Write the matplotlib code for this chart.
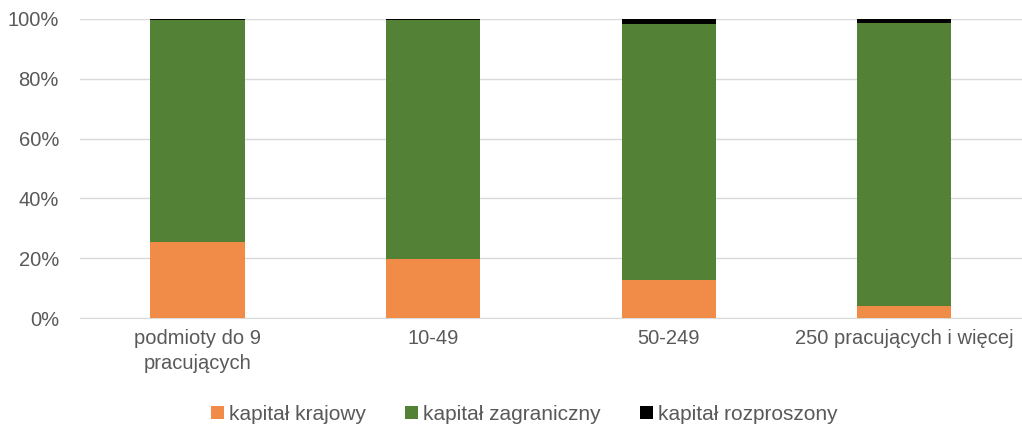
import matplotlib
matplotlib.use("Agg")
import matplotlib.pyplot as plt
import numpy as np

categories = ["podmioty do 9\npracujących", "10-49", "50-249", "250 pracujących i więcej"]
krajowy = [25.4, 19.6, 12.6, 4.0]
rozproszony = [0.4, 0.4, 1.7, 1.2]
zagraniczny = [100 - k - r for k, r in zip(krajowy, rozproszony)]
series_names = ["kapitał krajowy", "kapitał zagraniczny", "kapitał rozproszony"]
colors = ["#F08C48", "#538135", "#000000"]
yticks = [0, 20, 40, 60, 80, 100]

plt.rcParams['font.family'] = ['Liberation Sans', 'DejaVu Sans']
txt = "#595959"

fig = plt.figure(figsize=(10.22, 4.26), dpi=100)
ax = fig.add_axes([0.078, 0.2535, 0.922, 0.7019])

x = np.arange(len(categories))
w = 0.40
b1 = ax.bar(x, krajowy, w, color=colors[0], label=series_names[0], zorder=3)
b2 = ax.bar(x, zagraniczny, w, bottom=krajowy, color=colors[1], label=series_names[1], zorder=3)
bot3 = [k + z for k, z in zip(krajowy, zagraniczny)]
b3 = ax.bar(x, rozproszony, w, bottom=bot3, color=colors[2], label=series_names[2], zorder=3)

ax.set_xlim(-0.5, len(categories) - 0.5)
ax.set_ylim(0, 100)
ax.set_yticks(yticks)
ax.set_yticklabels([f"{t}%" for t in yticks], fontsize=14.5, color=txt)
ax.set_xticks(x)
ax.set_xticklabels(categories, fontsize=14.5, color=txt, linespacing=1.4)
ax.yaxis.grid(True, color="#D9D9D9", linewidth=1, zorder=0)
ax.set_axisbelow(True)
for s in ["top", "right", "left"]:
    ax.spines[s].set_visible(False)
ax.spines["bottom"].set_color("#D9D9D9")
ax.tick_params(axis="both", length=0)
ax.tick_params(axis="x", pad=8)
ax.tick_params(axis="y", pad=15)

leg = fig.legend(handles=[b1, b2, b3], labels=series_names, loc="center",
                 bbox_to_anchor=(0.513, 0.028), ncol=3, frameon=False, fontsize=15,
                 handlelength=0.6, handleheight=0.6, handletextpad=0.25, columnspacing=1.9)
for t in leg.get_texts():
    t.set_color(txt)

fig.savefig("out.png", dpi=100)
